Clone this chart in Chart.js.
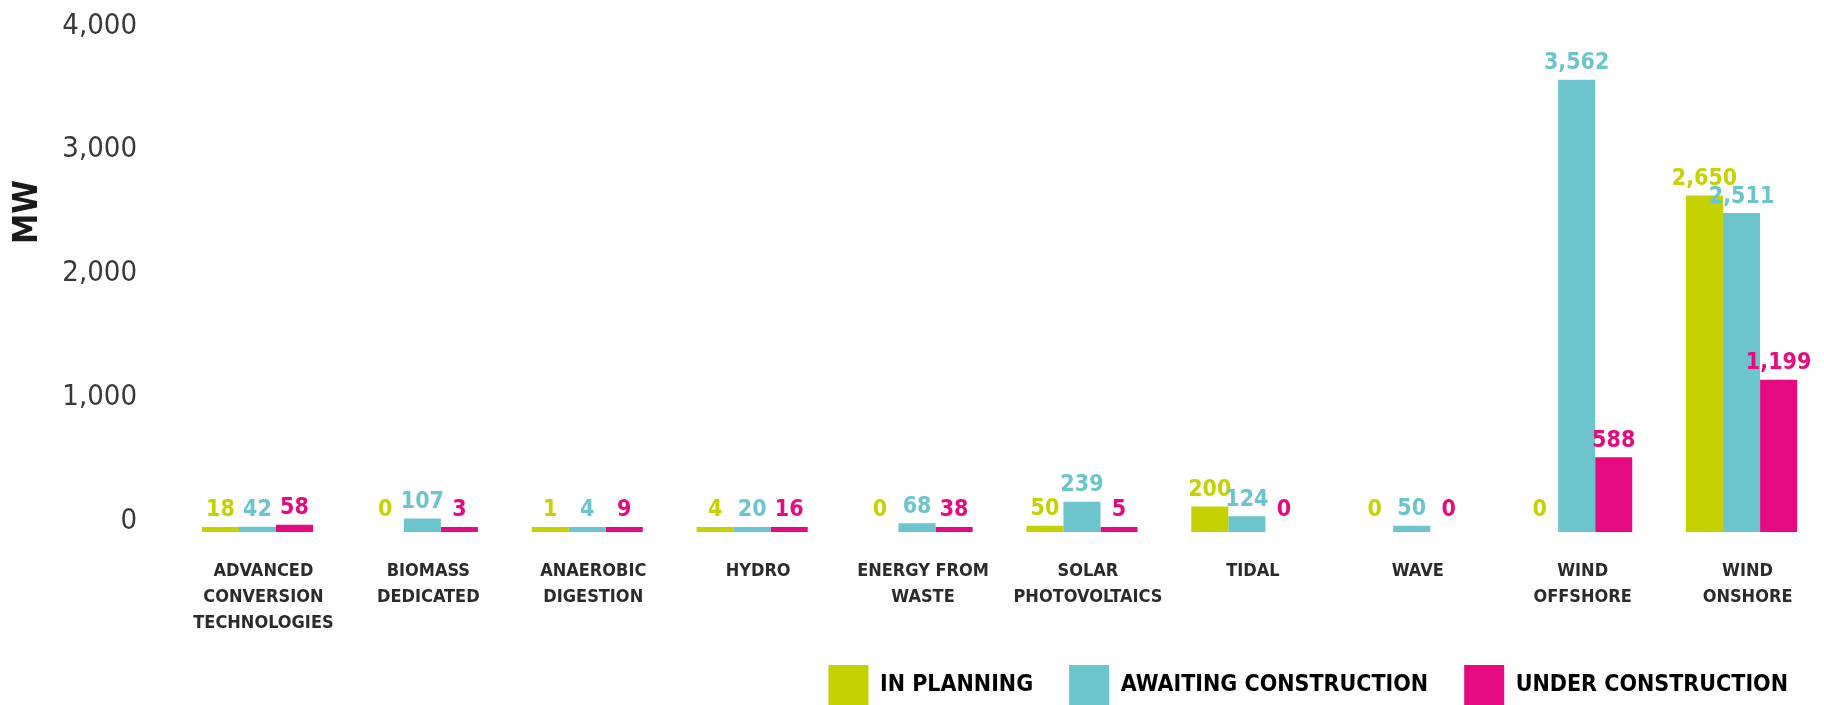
<!DOCTYPE html>
<html>
<head>
<meta charset="utf-8">
<script src="https://cdn.jsdelivr.net/npm/chart.js@4.4.1/dist/chart.umd.min.js"></script>
<style>
  html, body { margin: 0; padding: 0; background: #fff; }
  #wrap { width: 1824px; height: 705px; }
</style>
</head>
<body>
<div id="wrap"><canvas id="barChart"></canvas></div>
<script>
// categories and series (MW)
var categories = [
  ["ADVANCED", "CONVERSION", "TECHNOLOGIES"],
  ["BIOMASS", "DEDICATED"],
  ["ANAEROBIC", "DIGESTION"],
  ["HYDRO"],
  ["ENERGY FROM", "WASTE"],
  ["SOLAR", "PHOTOVOLTAICS"],
  ["TIDAL"],
  ["WAVE"],
  ["WIND", "OFFSHORE"],
  ["WIND", "ONSHORE"]
];
var inPlanning   = [18, 0, 1, 4, 0, 50, 200, 0, 0, 2650];
var awaiting     = [42, 107, 4, 20, 68, 239, 124, 50, 3562, 2511];
var underConstr  = [58, 3, 9, 16, 38, 5, 0, 0, 588, 1199];
var seriesNames  = ["IN PLANNING", "AWAITING CONSTRUCTION", "UNDER CONSTRUCTION"];
var seriesColors = ["#c5d200", "#6cc4cc", "#e50a80"];
var yTicks = [0, 1000, 2000, 3000, 4000];
var yTitle = "MW";

var condensed = "'DejaVu Sans Condensed', 'DejaVu Sans', sans-serif";

function barColor(i) {
  return function(ctx) { return ctx.raw === 0 ? "rgba(0,0,0,0)" : seriesColors[i]; };
}

// value labels above each bar
var valueLabels = {
  id: "valueLabels",
  afterDatasetsDraw: function(chart) {
    var ctx = chart.ctx;
    ctx.save();
    ctx.font = "bold 23px " + condensed;
    ctx.textAlign = "center";
    ctx.textBaseline = "bottom";
    chart.data.datasets.forEach(function(ds, i) {
      var meta = chart.getDatasetMeta(i);
      ctx.fillStyle = seriesColors[i];
      meta.data.forEach(function(el, j) {
        var top = Math.min(el.y, el.base);
        ctx.fillText(ds.data[j].toLocaleString("en-US"), el.x, top - 5);
      });
    });
    ctx.restore();
  }
};

// rotated axis title
var sideTitle = {
  id: "sideTitle",
  afterDraw: function(chart) {
    var ctx = chart.ctx;
    ctx.save();
    ctx.translate(28, 212);
    ctx.rotate(-Math.PI / 2);
    ctx.font = "bold 34px " + condensed;
    ctx.fillStyle = "#1a1a1a";
    ctx.textAlign = "center";
    ctx.textBaseline = "middle";
    ctx.fillText(yTitle, 0, 0);
    ctx.restore();
  }
};

var datasets = [inPlanning, awaiting, underConstr].map(function(vals, i) {
  return {
    label: seriesNames[i],
    data: vals,
    backgroundColor: barColor(i),
    yAxisID: "y",
    categoryPercentage: 0.674,
    barPercentage: 1.0,
    minBarLength: 5
  };
});

var legendPad = 36;

new Chart(document.getElementById("barChart"), {
  type: "bar",
  data: { labels: categories, datasets: datasets },
  plugins: [valueLabels, sideTitle],
  options: {
    responsive: true,
    maintainAspectRatio: false,
    animation: false,
    layout: { padding: { top: 24, right: 0, bottom: -10, left: 0 } },
    plugins: {
      tooltip: { enabled: false },
      legend: {
        position: "bottom",
        align: "end",
        labels: {
          boxWidth: 40,
          boxHeight: 40,
          padding: legendPad,
          color: "#222",
          font: { family: condensed, size: 23, weight: "bold" },
          generateLabels: function(chart) {
            return seriesNames.map(function(n, i) {
              return { text: n, fillStyle: seriesColors[i], strokeStyle: seriesColors[i], lineWidth: 0, datasetIndex: i };
            });
          }
        }
      }
    },
    scales: {
      x: {
        grid: { display: false, drawTicks: false },
        border: { display: false },
        afterFit: function(axis) { axis.height = 133 - legendPad; },
        ticks: {
          padding: 27,
          labelOffset: 6,
          maxRotation: 0,
          autoSkip: false,
          color: "#2b2b2b",
          font: { family: condensed, size: 18, weight: "bold", lineHeight: 1.42 }
        }
      },
      y: {
        display: false,
        min: 0,
        max: 4000
      },
      yl: {
        position: "left",
        min: -88.9,
        max: 4016.2,
        grid: { display: false, drawTicks: false },
        border: { display: false },
        afterBuildTicks: function(axis) {
          axis.ticks = yTicks.map(function(v) { return { value: v }; });
        },
        afterFit: function(axis) {
          axis.width = 175;
          axis.paddingTop = 17;
          axis.paddingBottom = 17;
        },
        ticks: {
          padding: 38,
          color: "#383838",
          font: { family: condensed, size: 29 },
          callback: function(v) { return Number(v).toLocaleString("en-US"); }
        }
      }
    }
  }
});
</script>
</body>
</html>
